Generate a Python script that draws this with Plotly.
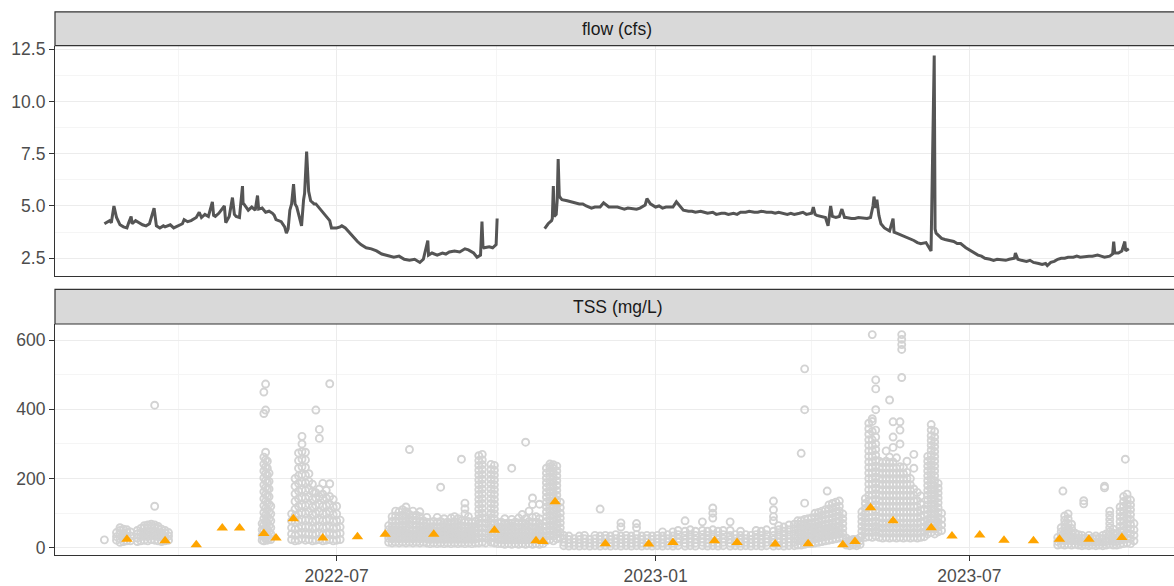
import plotly.graph_objects as go

# ---- flow (cfs): continuous record, two deployments ----
flow_2022 = [
    ("2022-02-17", 4.15), ("2022-02-20", 4.3), ("2022-02-21", 4.2), ("2022-02-22 12:00", 5.0),
    ("2022-02-24", 4.45), ("2022-02-25", 4.25), ("2022-02-26", 4.1), ("2022-02-28", 4.0),
    ("2022-03-02", 3.95), ("2022-03-03", 4.2), ("2022-03-04 10:00", 4.5), ("2022-03-05", 4.15),
    ("2022-03-07", 4.3), ("2022-03-09", 4.2), ("2022-03-11", 4.1), ("2022-03-13", 4.05),
    ("2022-03-15", 4.15), ("2022-03-17 16:00", 4.9), ("2022-03-19", 4.05), ("2022-03-21", 3.95),
    ("2022-03-23", 4.05), ("2022-03-24", 4.0), ("2022-03-27", 4.1), ("2022-03-29", 3.95),
    ("2022-04-01", 4.05), ("2022-04-03", 4.15), ("2022-04-04", 4.35), ("2022-04-06", 4.25),
    ("2022-04-08", 4.3), ("2022-04-11", 4.45), ("2022-04-12 17:00", 4.7), ("2022-04-14", 4.45),
    ("2022-04-16", 4.6), ("2022-04-18", 4.5), ("2022-04-20 07:00", 5.2), ("2022-04-21", 4.55),
    ("2022-04-22", 4.5), ("2022-04-24", 4.65), ("2022-04-27 05:00", 5.0), ("2022-04-28", 4.2),
    ("2022-04-30", 4.5), ("2022-05-01 21:00", 5.4), ("2022-05-03", 4.6), ("2022-05-04", 4.5),
    ("2022-05-05 22:00", 4.45), ("2022-05-07 16:00", 5.95), ("2022-05-08", 5.15), ("2022-05-10", 4.95),
    ("2022-05-11", 4.8), ("2022-05-13", 4.95), ("2022-05-15", 4.8), ("2022-05-16 08:00", 5.5),
    ("2022-05-17", 4.85), ("2022-05-19", 4.9), ("2022-05-21", 4.7), ("2022-05-23", 4.75),
    ("2022-05-25", 4.65), ("2022-05-26", 4.55), ("2022-05-27", 4.35), ("2022-05-30", 4.25),
    ("2022-06-01", 4.0), ("2022-06-02", 3.7), ("2022-06-03", 3.9), ("2022-06-04", 4.8),
    ("2022-06-05", 5.1), ("2022-06-06 03:00", 6.05), ("2022-06-07", 5.1), ("2022-06-08", 4.95),
    ("2022-06-09", 4.6), ("2022-06-10 18:00", 4.05), ("2022-06-11 22:00", 5.3), ("2022-06-12 12:00", 5.6),
    ("2022-06-13 16:00", 7.6), ("2022-06-14 20:00", 5.7), ("2022-06-16", 5.25), ("2022-06-18", 5.1),
    ("2022-06-19", 5.1), ("2022-06-21", 4.9), ("2022-06-23", 4.7), ("2022-06-25", 4.5),
    ("2022-06-27", 4.3), ("2022-06-28", 3.95), ("2022-07-01", 3.95), ("2022-07-03", 4.0),
    ("2022-07-04", 4.05), ("2022-07-06", 3.95), ("2022-07-07", 3.85), ("2022-07-10", 3.6),
    ("2022-07-13", 3.3), ("2022-07-15", 3.15), ("2022-07-18", 3.0), ("2022-07-21", 2.95),
    ("2022-07-24", 2.85), ("2022-07-27", 2.7), ("2022-07-31", 2.6), ("2022-08-03", 2.55),
    ("2022-08-06", 2.6), ("2022-08-09", 2.45), ("2022-08-12", 2.4), ("2022-08-15", 2.45),
    ("2022-08-18", 2.3), ("2022-08-20", 2.45), ("2022-08-22 14:00", 3.35), ("2022-08-23", 2.65),
    ("2022-08-25", 2.75), ("2022-08-28", 2.65), ("2022-08-31", 2.75), ("2022-09-02", 2.7),
    ("2022-09-04", 2.8), ("2022-09-07", 2.85), ("2022-09-10", 2.8), ("2022-09-13", 2.95),
    ("2022-09-15", 2.9), ("2022-09-18", 2.75), ("2022-09-20", 2.55), ("2022-09-22", 2.65),
    ("2022-09-22 20:00", 4.25), ("2022-09-23 10:00", 3.05), ("2022-09-24", 3.0), ("2022-09-27", 3.05),
    ("2022-09-29", 3.0), ("2022-10-01", 3.15), ("2022-10-01 14:00", 4.4),
]

flow_2023 = [
    ("2022-10-29", 3.92), ("2022-10-30", 4.05), ("2022-10-31", 4.15), ("2022-11-02", 4.3),
    ("2022-11-02 10:00", 4.4), ("2022-11-03", 5.95), ("2022-11-03 12:00", 4.5), ("2022-11-04 16:00", 4.6),
    ("2022-11-05 06:00", 5.3), ("2022-11-05 19:00", 7.25), ("2022-11-06 10:00", 5.5), ("2022-11-07", 5.4),
    ("2022-11-08", 5.3), ("2022-11-11", 5.25), ("2022-11-13", 5.2), ("2022-11-15", 5.15),
    ("2022-11-18", 5.1), ("2022-11-20", 5.1), ("2022-11-22", 5.0), ("2022-11-25", 4.9),
    ("2022-11-27", 4.95), ("2022-11-30", 4.95), ("2022-12-02", 5.15), ("2022-12-05", 4.95),
    ("2022-12-07", 4.95), ("2022-12-10", 4.95), ("2022-12-12", 4.9), ("2022-12-14", 4.85),
    ("2022-12-16", 4.9), ("2022-12-19", 4.85), ("2022-12-21", 4.85), ("2022-12-23", 4.9),
    ("2022-12-26", 5.05), ("2022-12-27", 5.35), ("2022-12-29", 5.1), ("2023-01-01", 4.95),
    ("2023-01-03", 5.0), ("2023-01-05", 4.9), ("2023-01-07", 4.95), ("2023-01-10", 4.95),
    ("2023-01-11", 4.95), ("2023-01-13", 5.2), ("2023-01-15", 5.0), ("2023-01-17", 4.8),
    ("2023-01-20", 4.75), ("2023-01-22", 4.75), ("2023-01-24", 4.7), ("2023-01-27", 4.75),
    ("2023-01-29", 4.7), ("2023-01-31", 4.65), ("2023-02-03", 4.7), ("2023-02-05", 4.6),
    ("2023-02-08", 4.65), ("2023-02-10", 4.65), ("2023-02-12", 4.6), ("2023-02-15", 4.65),
    ("2023-02-17", 4.6), ("2023-02-19", 4.7), ("2023-02-22", 4.7), ("2023-02-24", 4.75),
    ("2023-02-27", 4.7), ("2023-03-01", 4.7), ("2023-03-03", 4.75), ("2023-03-06", 4.7),
    ("2023-03-09", 4.7), ("2023-03-11", 4.65), ("2023-03-13", 4.7), ("2023-03-16", 4.65),
    ("2023-03-18", 4.6), ("2023-03-20", 4.65), ("2023-03-22", 4.6), ("2023-03-25", 4.65),
    ("2023-03-27", 4.7), ("2023-03-29", 4.6), ("2023-04-01", 4.65), ("2023-04-02", 4.95),
    ("2023-04-03", 4.6), ("2023-04-04", 4.55), ("2023-04-07", 4.5), ("2023-04-09", 4.45),
    ("2023-04-10 12:00", 4.05), ("2023-04-12", 5.0), ("2023-04-13", 4.5), ("2023-04-15", 4.45),
    ("2023-04-17", 4.5), ("2023-04-18 12:00", 4.85), ("2023-04-20", 4.45), ("2023-04-21", 4.45),
    ("2023-04-24", 4.4), ("2023-04-26", 4.4), ("2023-04-28", 4.45), ("2023-05-01", 4.4),
    ("2023-05-03", 4.4), ("2023-05-05", 4.45), ("2023-05-06 10:00", 5.0), ("2023-05-07", 5.45),
    ("2023-05-08", 4.9), ("2023-05-08 16:00", 5.3), ("2023-05-09 20:00", 4.55), ("2023-05-11", 4.15),
    ("2023-05-13", 3.95), ("2023-05-15", 3.85), ("2023-05-16", 3.8), ("2023-05-18", 4.4),
    ("2023-05-18 14:00", 3.75), ("2023-05-20", 3.7), ("2023-05-23", 3.6), ("2023-05-25", 3.55),
    ("2023-05-27", 3.45), ("2023-05-30", 3.35), ("2023-06-01", 3.25), ("2023-06-03", 3.2),
    ("2023-06-06", 3.25), ("2023-06-07", 3.1), ("2023-06-08 22:00", 2.85), ("2023-06-10 18:00", 12.2),
    ("2023-06-11 06:00", 3.9), ("2023-06-11 20:00", 3.7), ("2023-06-13", 3.6), ("2023-06-15", 3.45),
    ("2023-06-17", 3.4), ("2023-06-20", 3.35), ("2023-06-22", 3.3), ("2023-06-24", 3.2),
    ("2023-06-26", 3.2), ("2023-06-29", 3.0), ("2023-07-01", 2.9), ("2023-07-03", 2.8),
    ("2023-07-06", 2.65), ("2023-07-08", 2.6), ("2023-07-10", 2.5), ("2023-07-13", 2.45),
    ("2023-07-15", 2.4), ("2023-07-17", 2.45), ("2023-07-20", 2.4), ("2023-07-22", 2.4),
    ("2023-07-24", 2.45), ("2023-07-27", 2.5), ("2023-07-27 14:00", 2.75), ("2023-07-29", 2.45),
    ("2023-07-31", 2.4), ("2023-08-03", 2.35), ("2023-08-05", 2.4), ("2023-08-07", 2.3),
    ("2023-08-10", 2.25), ("2023-08-12", 2.2), ("2023-08-14", 2.25), ("2023-08-15", 2.15),
    ("2023-08-17", 2.3), ("2023-08-19", 2.35), ("2023-08-21", 2.45), ("2023-08-23", 2.5),
    ("2023-08-25", 2.5), ("2023-08-27", 2.55), ("2023-08-30", 2.55), ("2023-09-01", 2.6),
    ("2023-09-03", 2.55), ("2023-09-06", 2.6), ("2023-09-08", 2.6), ("2023-09-10", 2.6),
    ("2023-09-13", 2.65), ("2023-09-15", 2.6), ("2023-09-17", 2.55), ("2023-09-20", 2.6),
    ("2023-09-21 16:00", 2.7), ("2023-09-22 07:00", 3.3), ("2023-09-22 22:00", 2.75), ("2023-09-25", 2.75),
    ("2023-09-27", 2.85), ("2023-09-28 17:00", 3.3), ("2023-09-29 05:00", 2.85), ("2023-09-30", 2.9),
    ("2023-10-01", 2.95),
]

# ---- TSS (mg/L) estimated from the continuous sensor: readings per day ----
tss_sensor = [
    ("2022-02-17", [23]),
    ("2022-02-24", [22, 32, 44]), ("2022-02-26", [16, 26, 38, 50, 58]),
    ("2022-02-28", [18, 30, 42, 54]), ("2022-03-02", [20, 32, 44, 52]), ("2022-03-04", [20, 34, 46]),
    ("2022-03-08", [18, 28, 40, 50]), ("2022-03-10", [20, 32, 44, 56]), ("2022-03-12", [22, 34, 46, 58, 64]),
    ("2022-03-14", [20, 32, 44, 56, 66]), ("2022-03-16", [24, 36, 48, 60, 68]),
    ("2022-03-18", [22, 34, 46, 58, 66, 120, 412]), ("2022-03-20", [20, 32, 44, 56, 62]),
    ("2022-03-22", [18, 30, 42, 54]), ("2022-03-24", [20, 30, 42, 50]), ("2022-03-26", [22, 34, 44]),
    ("2022-05-19", [22, 36, 52, 70]),
    ("2022-05-20", [20, 34, 50, 66, 84, 102, 122, 142, 162, 182, 202, 222, 242, 262, 388, 450]),
    ("2022-05-21", [26, 42, 58, 76, 94, 114, 134, 154, 174, 194, 214, 234, 254, 276, 398, 473]),
    ("2022-05-22", [22, 38, 54, 72, 90, 110, 130, 150, 170, 190, 210, 230, 250]),
    ("2022-05-23", [28, 46, 64, 84, 104, 126, 148, 170, 192, 216]),
    ("2022-05-24", [24, 40, 58, 78, 98, 120]),
    ("2022-06-05", [24, 40, 58, 78, 98]),
    ("2022-06-07", [20, 36, 54, 72, 92, 112, 134, 156, 178, 200]),
    ("2022-06-09", [22, 40, 58, 78, 98, 120, 142, 164, 186, 208, 230, 252, 274]),
    ("2022-06-11", [26, 44, 62, 82, 102, 124, 146, 168, 190, 212, 234, 256, 278, 300, 322]),
    ("2022-06-13", [22, 40, 60, 80, 100, 122, 144, 166, 188, 210, 232, 254, 276]),
    ("2022-06-15", [24, 42, 62, 82, 104, 126, 148, 170, 192, 214]),
    ("2022-06-17", [20, 38, 56, 76, 96, 118, 140, 162, 184]),
    ("2022-06-19", [22, 40, 60, 80, 100, 122, 144, 159, 398]),
    ("2022-06-21", [24, 42, 62, 82, 104, 126, 148, 170, 316, 342]),
    ("2022-06-23", [20, 38, 58, 78, 98, 120, 142, 155, 186]),
    ("2022-06-25", [22, 40, 60, 80, 100, 122, 144, 166]),
    ("2022-06-27", [24, 42, 62, 82, 104, 126, 148, 185, 474]),
    ("2022-06-29", [20, 38, 56, 76, 96, 118, 140]),
    ("2022-07-01", [22, 40, 58, 78, 98, 120]), ("2022-07-03", [24, 42, 60, 80]),
    ("2022-07-31", [16, 28, 40, 52, 64]), ("2022-08-02", [14, 26, 38, 50, 62, 76, 90]),
    ("2022-08-04", [16, 28, 40, 52, 64, 78, 92, 106]), ("2022-08-06", [14, 26, 38, 50, 62, 76, 90, 104]),
    ("2022-08-08", [16, 28, 40, 52, 66, 80, 94, 110]), ("2022-08-10", [14, 26, 38, 50, 62, 76, 90, 104, 118]),
    ("2022-08-12", [16, 28, 40, 54, 68, 82, 96, 284]), ("2022-08-14", [14, 26, 38, 50, 64, 78, 92, 106]),
    ("2022-08-16", [16, 28, 40, 52, 66, 80, 94]), ("2022-08-18", [14, 26, 38, 50, 62, 76, 90, 104]),
    ("2022-08-20", [16, 28, 40, 52, 64, 78]), ("2022-08-22", [14, 26, 38, 50, 62, 74, 88]),
    ("2022-08-24", [12, 24, 36, 48, 60, 72]), ("2022-08-26", [14, 26, 38, 50, 62, 76]),
    ("2022-08-28", [12, 24, 36, 48, 60, 74, 88]), ("2022-08-30", [14, 26, 38, 50, 62, 76, 175]),
    ("2022-09-01", [12, 24, 36, 48, 60, 72, 84]), ("2022-09-03", [14, 26, 38, 50, 62, 74]),
    ("2022-09-05", [12, 24, 36, 48, 60, 72, 86]), ("2022-09-07", [14, 26, 38, 50, 62, 76, 90]),
    ("2022-09-09", [12, 24, 36, 48, 60, 72, 84]), ("2022-09-11", [14, 26, 38, 50, 64, 78, 256]),
    ("2022-09-13", [12, 24, 36, 48, 60, 74, 98, 113, 129]), ("2022-09-15", [14, 26, 38, 50, 62, 76, 90]),
    ("2022-09-17", [12, 24, 36, 48, 60, 72]), ("2022-09-19", [14, 26, 38, 50, 62, 76]),
    ("2022-09-21", [14, 28, 42, 56, 70, 84, 98, 112, 126, 140, 154, 168, 182, 196, 210, 224, 238, 252, 266]),
    ("2022-09-23", [16, 30, 44, 58, 72, 86, 100, 114, 128, 142, 156, 170, 184, 198, 212, 226, 240, 254, 270]),
    ("2022-09-25", [14, 28, 42, 56, 70, 84]),
    ("2022-09-28", [16, 30, 44, 58, 72, 86, 100, 114, 128, 142, 156, 170, 184, 198, 212, 226, 241]),
    ("2022-09-30", [14, 28, 42, 56, 70, 84, 98, 112, 126, 140, 154, 168, 182, 196, 210, 224, 238]),
    ("2022-10-02", [12, 24, 36, 48, 60, 72]), ("2022-10-04", [12, 24, 36, 48, 60, 74]),
    ("2022-10-06", [10, 22, 34, 46, 58, 70, 84]), ("2022-10-08", [12, 24, 36, 48, 60, 72]),
    ("2022-10-10", [10, 22, 34, 46, 58, 70, 82, 230]), ("2022-10-12", [12, 24, 36, 48, 60, 74]),
    ("2022-10-14", [10, 22, 34, 46, 58, 72, 86]), ("2022-10-16", [12, 24, 36, 48, 60, 74, 96]),
    ("2022-10-18", [10, 22, 34, 46, 58, 70, 84, 305]), ("2022-10-20", [12, 24, 36, 48, 62, 76, 106]),
    ("2022-10-22", [10, 22, 34, 46, 58, 72, 88, 125, 144]), ("2022-10-24", [12, 24, 36, 48, 60, 74, 90]),
    ("2022-10-26", [10, 22, 34, 46, 58, 70, 84, 126]), ("2022-10-28", [12, 24, 36, 48, 62]),
    ("2022-10-30", [20, 34, 48, 62, 76, 90, 104, 118, 132, 146, 160, 174, 188, 202, 216, 230]),
    ("2022-11-01", [24, 38, 52, 66, 80, 94, 108, 122, 136, 150, 164, 178, 192, 206, 220, 234, 242]),
    ("2022-11-03", [20, 34, 48, 62, 76, 90, 104, 118, 132, 146, 160, 174, 188, 202, 216, 230, 240]),
    ("2022-11-05", [26, 40, 54, 68, 82, 96, 110, 124, 138, 152, 166, 180, 194, 208, 222, 236]),
    ("2022-11-07", [30, 44, 58, 72, 86, 100, 116, 132]),
    ("2022-11-09", [6, 16, 26, 36]), ("2022-11-12", [5, 14, 24, 34]), ("2022-11-15", [6, 16, 26]),
    ("2022-11-18", [5, 14, 24, 34]), ("2022-11-21", [6, 16, 26, 36]), ("2022-11-24", [5, 14, 24]),
    ("2022-11-27", [6, 16, 26, 36]), ("2022-11-30", [5, 14, 24, 34, 112]), ("2022-12-03", [6, 16, 26, 36]),
    ("2022-12-06", [5, 14, 24, 34]), ("2022-12-09", [6, 16, 26, 38]), ("2022-12-12", [5, 14, 24, 34, 60, 72]),
    ("2022-12-15", [6, 16, 26, 36]), ("2022-12-18", [5, 14, 24, 34]), ("2022-12-21", [6, 16, 26, 38, 58, 70]),
    ("2022-12-24", [5, 14, 24, 34]), ("2022-12-27", [6, 16, 26, 36]), ("2022-12-30", [5, 14, 24, 34]),
    ("2023-01-02", [6, 16, 26, 36]), ("2023-01-05", [5, 14, 24, 34, 46]), ("2023-01-08", [6, 16, 26, 38]),
    ("2023-01-11", [5, 14, 24, 34, 46]), ("2023-01-14", [6, 16, 26, 38, 50]), ("2023-01-18", [5, 14, 24, 36, 48, 78]),
    ("2023-01-21", [6, 16, 26, 38, 52]), ("2023-01-24", [5, 14, 24, 36, 48]), ("2023-01-28", [6, 16, 26, 38, 50, 75]),
    ("2023-01-31", [5, 14, 24, 36, 48]), ("2023-02-03", [6, 16, 26, 38, 52, 86, 100, 115]),
    ("2023-02-06", [5, 14, 24, 36, 48]), ("2023-02-09", [6, 16, 26, 38, 50]), ("2023-02-13", [5, 14, 24, 36, 50, 75]),
    ("2023-02-16", [6, 16, 26, 38]), ("2023-02-19", [5, 14, 24, 36, 48]), ("2023-02-22", [6, 16, 26, 38]),
    ("2023-02-25", [5, 14, 24, 36]), ("2023-02-28", [6, 16, 26, 38, 50]), ("2023-03-03", [5, 14, 24, 36, 48]),
    ("2023-03-06", [6, 16, 26, 38, 52]), ("2023-03-10", [5, 14, 24, 36, 48, 78, 90, 110, 135]),
    ("2023-03-13", [6, 16, 26, 38, 52, 64]), ("2023-03-16", [5, 14, 24, 36, 48, 60]),
    ("2023-03-19", [6, 16, 26, 38, 52, 66]), ("2023-03-22", [6, 16, 28, 40, 54, 68]),
    ("2023-03-24", [8, 20, 32, 44, 56, 68, 78]), ("2023-03-26", [8, 20, 32, 44, 56, 68, 78, 273]),
    ("2023-03-28", [10, 22, 34, 46, 58, 70, 82, 129, 399, 517]), ("2023-03-30", [12, 24, 36, 48, 60, 72, 84]),
    ("2023-04-01", [12, 24, 36, 48, 60, 72, 86]), ("2023-04-03", [14, 26, 38, 50, 62, 74, 88, 100]),
    ("2023-04-05", [16, 28, 40, 52, 64, 76, 90, 102]), ("2023-04-07", [18, 30, 42, 54, 66, 80, 94, 106]),
    ("2023-04-09", [20, 32, 44, 56, 68, 82, 96, 110]), ("2023-04-10", [164]),
    ("2023-04-11", [22, 34, 46, 58, 70, 84, 98, 112, 124]), ("2023-04-13", [24, 36, 48, 60, 72, 86, 100, 114, 128]),
    ("2023-04-15", [26, 38, 50, 62, 76, 90, 104, 118, 132]), ("2023-04-17", [28, 40, 52, 64, 78, 92, 106, 120, 135]),
    ("2023-04-19", [30, 42, 56, 70, 84, 98]),
    ("2023-04-21", [8, 18, 28]), ("2023-04-23", [6, 14, 22]), ("2023-04-25", [8, 16, 24]),
    ("2023-04-27", [6, 14, 24]), ("2023-04-29", [10, 20, 30]),
    ("2023-04-30", [34, 48, 62, 76, 90, 104]),
    ("2023-05-02", [30, 44, 58, 72, 86, 100, 114, 128, 142]),
    ("2023-05-04", [32, 46, 60, 74, 88, 104, 120, 136, 152, 168, 184, 200, 216, 232, 248, 264, 280, 296, 312, 328, 344, 360]),
    ("2023-05-06", [30, 44, 58, 72, 88, 104, 120, 136, 152, 168, 184, 200, 216, 232, 248, 264, 280, 296, 312, 336, 365, 373, 616]),
    ("2023-05-08", [34, 48, 62, 76, 92, 108, 124, 140, 156, 172, 188, 204, 220, 236, 252, 268, 284, 300, 320, 340, 399, 459, 485]),
    ("2023-05-10", [30, 44, 58, 72, 88, 104, 120, 136, 152, 168, 184, 200, 216, 232, 250]),
    ("2023-05-12", [28, 42, 56, 70, 86, 102, 118, 134, 150, 166, 182, 198, 214, 230, 246]),
    ("2023-05-14", [30, 44, 58, 72, 88, 104, 120, 136, 152, 168, 184, 200, 216, 232, 250, 280]),
    ("2023-05-16", [28, 42, 56, 70, 86, 102, 118, 134, 150, 166, 182, 198, 214, 230, 246, 262, 427]),
    ("2023-05-18", [30, 44, 58, 72, 88, 104, 120, 136, 152, 168, 184, 200, 216, 232, 248, 290, 320, 364]),
    ("2023-05-20", [28, 42, 56, 70, 86, 102, 118, 134, 150, 166, 182, 198, 214, 230, 260]),
    ("2023-05-22", [30, 44, 58, 72, 88, 104, 120, 136, 152, 168, 184, 200, 216, 234, 300, 340, 364]),
    ("2023-05-23", [492, 573, 587, 602, 616]),
    ("2023-05-24", [28, 42, 56, 70, 86, 102, 118, 134, 150, 166, 182, 198, 214, 232]),
    ("2023-05-26", [30, 44, 58, 72, 88, 104, 120, 136, 152, 168, 184, 200, 218, 250]),
    ("2023-05-28", [28, 42, 56, 70, 86, 102, 118, 134, 150, 166, 182, 200]),
    ("2023-05-30", [30, 44, 58, 72, 88, 104, 120, 136, 152, 170, 230, 270]),
    ("2023-06-01", [28, 42, 56, 70, 86, 102, 118, 136, 160]),
    ("2023-06-03", [30, 44, 58, 74, 90, 108, 126, 150]),
    ("2023-06-05", [32, 46, 60, 76, 94, 112]),
    ("2023-06-07", [40, 54, 68, 82, 96, 110, 124, 138, 152, 166, 180, 194, 208, 222, 236, 250, 264]),
    ("2023-06-09", [44, 58, 72, 86, 100, 114, 128, 142, 156, 170, 184, 198, 212, 226, 240, 254, 268, 282, 296, 310, 324, 340, 356]),
    ("2023-06-11", [40, 54, 68, 82, 96, 110, 124, 138, 152, 166, 180, 194, 208, 222, 236, 250, 264, 278, 292, 306, 320, 336]),
    ("2023-06-13", [46, 60, 74, 88, 102, 116, 130, 144, 158, 172, 186]),
    ("2023-06-15", [50, 66, 82, 100]),
    ("2023-08-21", [8, 18, 30]), ("2023-08-23", [10, 22, 34, 46, 58]), ("2023-08-24", [164]),
    ("2023-08-25", [8, 20, 32, 44, 56, 68, 80, 92]), ("2023-08-27", [10, 22, 34, 46, 58, 70, 84, 98]),
    ("2023-08-29", [8, 20, 32, 44, 56, 68]), ("2023-08-31", [10, 20, 30, 42]),
    ("2023-09-02", [8, 18, 28, 38]), ("2023-09-04", [6, 16, 26, 36]), ("2023-09-05", [127, 136]),
    ("2023-09-06", [8, 18, 28]), ("2023-09-08", [6, 16, 26, 36]), ("2023-09-10", [8, 18, 28]),
    ("2023-09-12", [6, 16, 26, 34]), ("2023-09-14", [8, 18, 28]), ("2023-09-16", [6, 16, 26, 36]),
    ("2023-09-17", [173, 178]), ("2023-09-18", [8, 18, 28, 40]),
    ("2023-09-20", [10, 22, 34, 46, 58, 70, 82, 94, 106]), ("2023-09-22", [8, 18, 30, 42, 54]),
    ("2023-09-24", [8, 18, 28, 40]), ("2023-09-26", [10, 22, 34, 48, 62, 76, 90, 104, 118]),
    ("2023-09-28", [12, 24, 36, 50, 64, 78, 92, 106, 120, 134, 148]), ("2023-09-29", [256]),
    ("2023-09-30", [14, 28, 42, 56, 70, 84, 98, 112, 126, 140, 155]),
    ("2023-10-02", [12, 26, 40, 54, 68, 82, 96, 110, 124, 138]), ("2023-10-04", [20, 36, 52, 70]),
]

# ---- TSS (mg/L) from grab samples ----
tss_samples = [
    ("2022-03-02", 25), ("2022-03-24", 20), ("2022-04-11", 9), ("2022-04-26", 57),
    ("2022-05-06", 57), ("2022-05-20", 41), ("2022-05-27", 28), ("2022-06-06", 84),
    ("2022-06-23", 28), ("2022-07-13", 32), ("2022-07-29", 39), ("2022-08-26", 39),
    ("2022-09-30", 51), ("2022-10-24", 20), ("2022-10-28", 18), ("2022-11-04", 133),
    ("2022-12-03", 12), ("2022-12-28", 11), ("2023-01-11", 15), ("2023-02-04", 20),
    ("2023-02-17", 15), ("2023-03-11", 11), ("2023-03-30", 12), ("2023-04-19", 9),
    ("2023-04-26", 18), ("2023-05-05", 116), ("2023-05-18", 78), ("2023-06-09", 58),
    ("2023-06-21", 34), ("2023-07-07", 37), ("2023-07-21", 22), ("2023-08-07", 20),
    ("2023-08-22", 25), ("2023-09-08", 25), ("2023-09-27", 30),
]

x_range = ["2022-01-19 12:00", "2023-10-27 02:00"]
flow_ticks = [2.5, 5.0, 7.5, 10.0, 12.5]
tss_ticks = [0, 200, 400, 600]

# panel geometry (paper fractions)
W, H = 1174, 586
M_L, M_B = 55, 31
PH = H - M_B
top_dom = [(PH - 273) / PH, (PH - 40) / PH]
bot_dom = [0, (PH - 321.5) / PH]
top_strip = [top_dom[1], (PH - 6) / PH]
bot_strip = [bot_dom[1], (PH - 286.5) / PH]

sensor_x, sensor_y = [], []
for day, vals in tss_sensor:
    for v in vals:
        sensor_x.append(day)
        sensor_y.append(v)

fig = go.Figure()

for seg in (flow_2022, flow_2023):
    fig.add_trace(go.Scatter(
        x=[d for d, _ in seg], y=[v for _, v in seg],
        mode="lines", line=dict(color="#555555", width=3),
        xaxis="x2", yaxis="y2", showlegend=False, hoverinfo="skip"))

fig.add_trace(go.Scatter(
    x=sensor_x, y=sensor_y, mode="markers",
    marker=dict(symbol="circle-open", size=7, color="#d3d3d3", line=dict(width=1.9)),
    xaxis="x", yaxis="y", showlegend=False, hoverinfo="skip"))

fig.add_trace(go.Scatter(
    x=[d for d, _ in tss_samples], y=[v for _, v in tss_samples], mode="markers",
    marker=dict(symbol="triangle-up", size=10, color="#FFA500", line=dict(width=0)),
    xaxis="x", yaxis="y", showlegend=False))

tick_font = dict(family="Liberation Sans, Arial, sans-serif", size=17.5, color="#4d4d4d")
grid = dict(showgrid=True, gridcolor="#ececec", gridwidth=1)
edge = "#333333"

xcommon = dict(type="date", range=x_range, tick0="2022-01-01", dtick="M6",
               tickformat="%Y-%m", zeroline=False, showline=True, linecolor=edge,
               linewidth=1.2, minor=dict(dtick="M3", showgrid=True, gridcolor="#f5f5f5"),
               **grid)

fig.update_layout(
    width=W, height=H,
    margin=dict(l=M_L, r=0, t=0, b=M_B),
    paper_bgcolor="white", plot_bgcolor="white",
    font=dict(family="Liberation Sans, Arial, sans-serif"),
    xaxis=dict(anchor="y", domain=[0, 1], ticks="outside", ticklen=5, tickwidth=1.2,
               tickcolor=edge, tickfont=tick_font, **xcommon),
    xaxis2=dict(anchor="y2", domain=[0, 1], matches="x", showticklabels=False, ticks="",
                **xcommon),
    yaxis=dict(anchor="x", domain=bot_dom, range=[-20.8, 646.5], tickvals=tss_ticks,
               ticks="outside", ticklen=5, tickwidth=1.2, tickcolor=edge, tickfont=tick_font,
               showline=True, linecolor=edge, linewidth=1.2, zeroline=False,
               minor=dict(tickvals=[100, 300, 500], showgrid=True, gridcolor="#f5f5f5"), **grid),
    yaxis2=dict(anchor="x2", domain=top_dom, range=[1.648, 12.675], tickvals=flow_ticks,
                ticktext=[f"{t:.1f}" for t in flow_ticks],
                ticks="outside", ticklen=5, tickwidth=1.2, tickcolor=edge, tickfont=tick_font,
                showline=True, linecolor=edge, linewidth=1.2, zeroline=False,
                minor=dict(tickvals=[3.75, 6.25, 8.75, 11.25], showgrid=True, gridcolor="#f5f5f5"),
                **grid),
)

# facet strips
shapes = []
for y0, y1 in (top_strip, bot_strip):
    shapes.append(dict(type="rect", xref="paper", yref="paper", x0=0, x1=1.02, y0=y0, y1=y1,
                       fillcolor="#d9d9d9", line=dict(color=edge, width=1.2), layer="above"))
fig.update_layout(shapes=shapes)

cx = (617 - M_L) / (W - M_L)
for label, (y0, y1) in (("flow (cfs)", top_strip), ("TSS (mg/L)", bot_strip)):
    fig.add_annotation(text=label, xref="paper", yref="paper", x=cx, y=(y0 + y1) / 2,
                       showarrow=False, xanchor="center", yanchor="middle",
                       font=dict(family="Liberation Sans, Arial, sans-serif", size=17.5, color="#1a1a1a"))

fig.write_html("out.html")
